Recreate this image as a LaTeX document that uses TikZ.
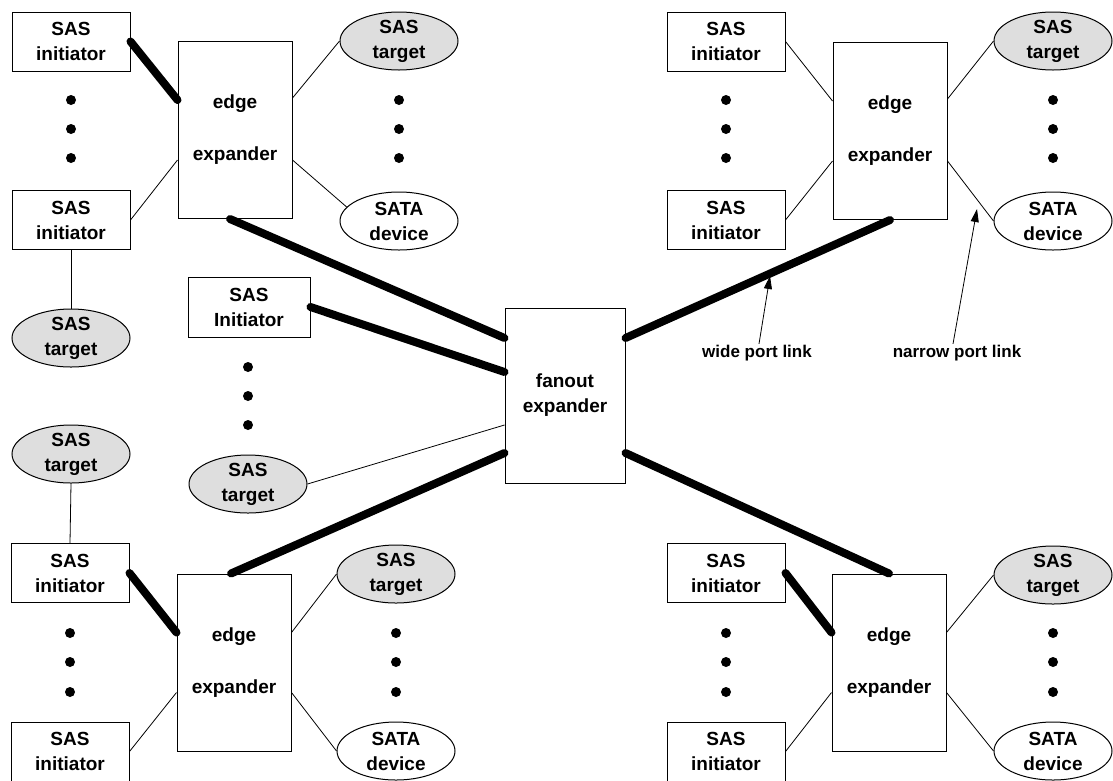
\documentclass[tikz,border=0pt]{standalone}
\usepackage{fontspec}
\setmainfont{Liberation Sans}
\usetikzlibrary{shapes.geometric,arrows.meta}

\newcommand\diagfont{\fontsize{19}{25}\selectfont\bfseries}
\newcommand\lblfont{\fontsize{17}{20}\selectfont\bfseries}

\tikzset{
  box/.style={draw, line width=1pt, minimum width=118pt, minimum height=59pt,
    inner sep=0pt, align=center, font=\diagfont},
  expbox/.style={draw, line width=1pt, minimum width=114pt, minimum height=177pt,
    inner sep=0pt, align=center, font=\diagfont},
  target/.style={ellipse, draw, line width=1pt, fill=black!13, minimum width=118pt,
    minimum height=58pt, inner sep=0pt, inner ysep=-3pt, align=center, font=\diagfont},
  sata/.style={target, fill=white},
  dot/.style={circle, fill=black, inner sep=0pt, minimum size=10pt},
  wide/.style={line width=8pt, line cap=round},
  narrow/.style={line width=0.8pt},
  pointer/.style={line width=0.8pt, -{Triangle[length=13pt,width=8pt]}},
  lbl/.style={font=\lblfont, inner sep=1pt},
}

\begin{document}
\begin{tikzpicture}[x=1pt,y=-1pt]
\useasboundingbox (0,0) rectangle (1113,780);

% ---------- top-left edge expander group ----------
\node[box] (tl-i1) at (71,41.5) {SAS\\initiator};
\node[box] (tl-i2) at (71,220) {SAS\\initiator};
\node[expbox] (tl-e) at (235,130) {edge\\[27pt]expander};
\node[target] (tl-t) at (399,41) {SAS\\target};
\node[sata] (tl-s) at (399,221) {SATA\\device};
\node[target] (tl-t2) at (71,338) {SAS\\target};
\foreach \y [count=\k] in {100,129,158} {
  \node[dot] (tl-dl\k) at (71,\y) {};
  \node[dot] (tl-dr\k) at (399,\y) {};
}
\draw[wide] (tl-i1.east) -- ([yshift=30pt]tl-e.west);
\draw[narrow] (tl-i2.east) -- ([yshift=-30pt]tl-e.west);
\draw[narrow] ([yshift=32pt]tl-e.east) -- (tl-t.west);
\draw[narrow] ([yshift=-30pt]tl-e.east) -- (tl-s.165);
\draw[narrow] (tl-i2.south) -- (tl-t2.north);

% ---------- top-right edge expander group ----------
\node[box] (tr-i1) at (726,41.5) {SAS\\initiator};
\node[box] (tr-i2) at (726,220) {SAS\\initiator};
\node[expbox] (tr-e) at (890,131) {edge\\[27pt]expander};
\node[target] (tr-t) at (1053,41) {SAS\\target};
\node[sata] (tr-s) at (1053,221) {SATA\\device};
\foreach \y [count=\k] in {100,129,158} {
  \node[dot] (tr-dl\k) at (726,\y) {};
  \node[dot] (tr-dr\k) at (1053,\y) {};
}
\draw[narrow] (tr-i1.east) -- ([yshift=30pt]tr-e.west);
\draw[narrow] (tr-i2.east) -- ([yshift=-30pt]tr-e.west);
\draw[narrow] ([yshift=32pt]tr-e.east) -- (tr-t.west);
\draw[narrow] ([yshift=-30pt]tr-e.east) -- (tr-s.west);

% ---------- bottom-left edge expander group ----------
\node[target] (bl-t0) at (71,454) {SAS\\target};
\node[box] (bl-i1) at (70,573) {SAS\\initiator};
\node[box] (bl-i2) at (70,751.5) {SAS\\initiator};
\node[expbox] (bl-e) at (234,662.5) {edge\\[27pt]expander};
\node[target] (bl-t) at (396,574) {SAS\\target};
\node[sata] (bl-s) at (396,751) {SATA\\device};
\foreach \y [count=\k] in {633,662,692} {
  \node[dot] (bl-dl\k) at (70,\y) {};
  \node[dot] (bl-dr\k) at (396,\y) {};
}
\draw[narrow] (bl-t0.south) -- (bl-i1.north);
\draw[wide] (bl-i1.east) -- ([yshift=30pt]bl-e.west);
\draw[narrow] (bl-i2.east) -- ([yshift=-30pt]bl-e.west);
\draw[narrow] ([yshift=30pt]bl-e.east) -- (bl-t.west);
\draw[narrow] ([yshift=-30pt]bl-e.east) -- (bl-s.west);

% ---------- bottom-right edge expander group ----------
\node[box] (br-i1) at (726,573) {SAS\\initiator};
\node[box] (br-i2) at (726,751.5) {SAS\\initiator};
\node[expbox] (br-e) at (889,662.5) {edge\\[27pt]expander};
\node[target] (br-t) at (1053,575) {SAS\\target};
\node[sata] (br-s) at (1053,751) {SATA\\device};
\foreach \y [count=\k] in {633,662,692} {
  \node[dot] (br-dl\k) at (726,\y) {};
  \node[dot] (br-dr\k) at (1053,\y) {};
}
\draw[wide] (br-i1.east) -- ([yshift=30pt]br-e.west);
\draw[narrow] (br-i2.east) -- ([yshift=-30pt]br-e.west);
\draw[narrow] ([yshift=30pt]br-e.east) -- (br-t.west);
\draw[narrow] ([yshift=-30pt]br-e.east) -- (br-s.west);

% ---------- fanout expander and its own end devices ----------
\node[expbox, minimum width=120pt, minimum height=175pt] (fo) at (565,395.5) {fanout\\expander};
\node[box, minimum width=122pt, minimum height=60pt] (c-i) at (249,307) {SAS\\Initiator};
\foreach \y [count=\k] in {367,396,425} {
  \node[dot] (c-d\k) at (248,\y) {};
}
\node[target] (c-t) at (248,484) {SAS\\target};
\draw[wide] (c-i.east) -- ([yshift=23.5pt]fo.west);
\draw[narrow] (c-t.east) -- ([yshift=-29.5pt]fo.west);

% wide links between the fanout expander and the edge expanders
\draw[wide] ([yshift=57.5pt]fo.west) -- ([xshift=-5pt]tl-e.south);
\draw[wide] ([yshift=-57.5pt]fo.west) -- ([xshift=-3pt]bl-e.north);
\draw[wide] ([yshift=57.5pt]fo.east) -- (tr-e.south);
\draw[wide] ([yshift=-57.5pt]fo.east) -- (br-e.north);

% ---------- link type call-outs ----------
\node[lbl] (wl) at (757,353) {wide port link};
\node[lbl] (nl) at (957,353) {narrow port link};
\coordinate (wtip) at (770,276);
\coordinate (ntip) at (977,209);
\draw[pointer] ([xshift=2pt]wl.north) -- (wtip);
\draw[pointer] ([xshift=-4pt]nl.north) -- (ntip);

\end{tikzpicture}
\end{document}
